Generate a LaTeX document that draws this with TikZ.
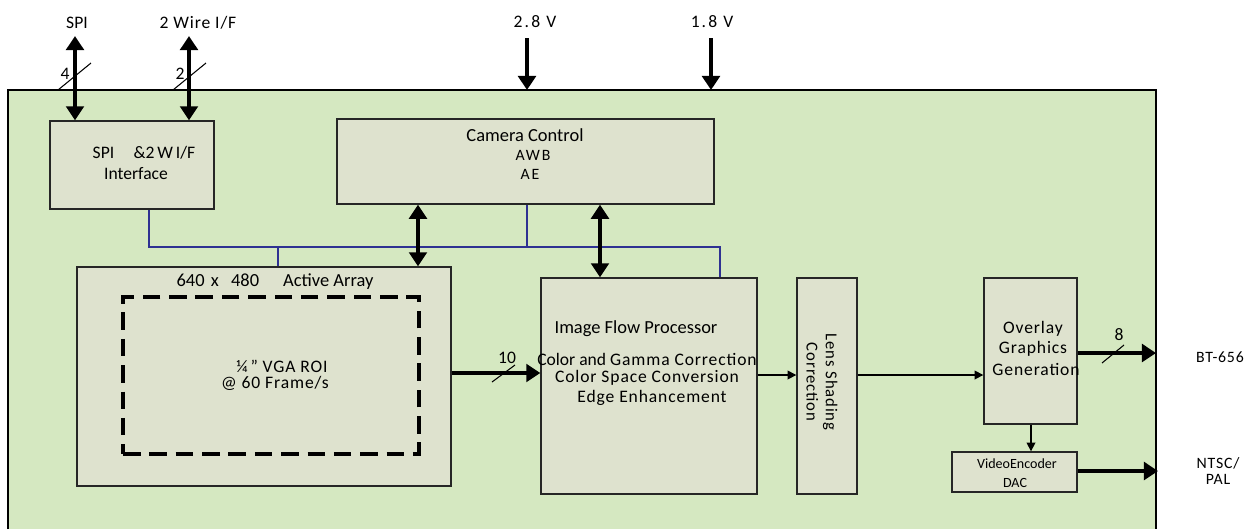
\documentclass[tikz,border=0pt]{standalone}
\usepackage{fontspec}
\setmainfont{Carlito}
\newfontfamily\spc[LetterSpace=5]{Carlito}
\newfontfamily\spcw[LetterSpace=12]{Carlito}
\usetikzlibrary{arrows.meta}
\definecolor{outergreen}{RGB}{213,232,193}
\definecolor{innerbox}{RGB}{222,226,206}
\definecolor{busblue}{RGB}{46,49,146}
\tikzset{
 blk/.style={draw=black!85, line width=0.8pt, fill=innerbox, inner sep=0pt, anchor=center},
 thickarr/.style={line width=2.3pt, -{Triangle[width=10pt,length=8pt]}},
 thickdbl/.style={line width=2.3pt, {Triangle[width=10pt,length=8pt]}-{Triangle[width=10pt,length=8pt]}},
 thinarr/.style={line width=0.9pt, -{Triangle[width=5pt,length=5pt]}},
 bus/.style={draw=busblue, line width=0.7pt},
 slash/.style={line width=0.6pt},
 lbl/.style={inner sep=0pt, font=\fontsize{10}{11}\selectfont},
 lblm/.style={inner sep=0pt, font=\fontsize{9}{10}\selectfont},
 lblb/.style={inner sep=0pt, font=\fontsize{10.5}{12}\selectfont},
 lbls/.style={inner sep=0pt, font=\fontsize{8}{9}\selectfont},
}
\begin{document}
\begin{tikzpicture}[x=0.02cm,y=-0.02cm]
\useasboundingbox (0,0) rectangle (1248,529);
% outer chip
\fill[outergreen] (8,90) rectangle (1156,529);
\draw[line width=0.8pt] (8,529) -- (8,90) -- (1156,90) -- (1156,529);

% blocks
\node[blk, minimum width=3.28cm, minimum height=1.76cm] (spi) at (132,165) {};
\node[blk, minimum width=7.54cm, minimum height=1.70cm] (cam) at (525.5,161.5) {};
\node[blk, minimum width=7.48cm, minimum height=4.38cm] (act) at (264,376.5) {};
\node[draw, line width=2.2pt, dash pattern=on 10pt off 5pt, minimum width=5.92cm, minimum height=3.14cm, inner sep=0pt] (roi) at (271,375.5) {};
\node[blk, minimum width=4.32cm, minimum height=4.32cm] (ifp) at (649,386) {};
\node[blk, minimum width=1.2cm, minimum height=4.32cm] (lens) at (827,386) {};
\node[blk, minimum width=1.86cm, minimum height=2.92cm] (ovl) at (1030.5,351) {};
\node[blk, minimum width=2.5cm, minimum height=0.8cm] (venc) at (1014.5,472) {};

% block texts
\node[lbl] (spit1) at (144,153) {SPI\hspace{1.1em}\&2\,W\,I/F};
\node[lbl] (spit2) at (136,174) {Interface};
\node[lblb] (camt1) at (525,135) {Camera Control};
\node[lblm] (camt2) at (533,155) {{\spcw AWB}};
\node[lblm] (camt3) at (530,174) {{\spcw AE}};
\node[lblb] (actt) at (275,282) {640\,\,x\,\,\,\,480\hspace{1.3em}Active Array};
\node[lbl] (roit1) at (282,366) {{\spc ¼\,” VGA ROI}};
\node[lbl] (roit2) at (275,383) {{\spc @ 60 Frame/s}};
\node[lblb] (ifpt1) at (636,329) {Image Flow Processor};
\node[lbl] (ifpt2) at (647,359) {Color and {\spc Gamma Correction}};
\node[lbl] (ifpt3) at (647,378) {{\spc Color Space Conversion}};
\node[lbl] (ifpt4) at (652,398) {{\spc Edge Enhancement}};
\node[inner sep=0pt, font=\fontsize{9.5}{11}\selectfont, rotate=-90, align=center] (lenst) at (822,382) {{\spc Lens Shading}\\{\spc Correction}};
\node[lbl] (ovlt1) at (1033,329) {{\spc Overlay}};
\node[lbl] (ovlt2) at (1033,349) {{\spc Graphics}};
\node[lbl] (ovlt3) at (1036,369) {{\spc Generation}};
\node[lbls] (venct1) at (1017,464) {VideoEncoder};
\node[lbls] (venct2) at (1015,483) {DAC};

% external labels
\node[lbl] (lspi) at (77,23) {SPI};
\node[lbl] (ltw) at (198,23) {{\spc 2 Wire I/F}};
\node[lbl] (l28) at (535,22) {{\spcw 2.8 V}};
\node[lbl] (l18) at (712,22) {{\spcw 1.8 V}};
\node[lblm] (lbt) at (1220,357) {{\spc BT-656}};
\node[lblm, align=center] (lntsc) at (1218,471) {{\spc NTSC/}\\[-1pt]{\spc PAL}};

% top connectors
\coordinate (spiend) at (75,36);
\coordinate (twend) at (189,36);
\coordinate (v28) at (527,38);
\coordinate (v18) at (711,38);
\draw[thickdbl] (spiend) -- (spiend |- spi.north);
\draw[thickdbl] (twend) -- (twend |- spi.north);
\draw[slash] (58,90) -- (91,63);
\draw[slash] (173,90) -- (206,63);
\node[lbl] (n4) at (65,74) {4};
\node[lbl] (n2) at (180,74) {2};
\draw[thickarr] (v28) -- (527,90);
\draw[thickarr] (v18) -- (711,90);

% bus
\draw[bus] (149,0 |- spi.south) -- (149,247) -- (720,247) -- (720,0 |- ifp.north);
\draw[bus] (278,247) -- (278,0 |- act.north);
\draw[bus] (527,0 |- cam.south) -- (527,247);

% camera control double arrows
\draw[thickdbl] (418,0 |- cam.south) -- (418,0 |- act.north);
\draw[thickdbl] (600,0 |- cam.south) -- (600,0 |- ifp.north);

% data path
\draw[thickarr] (act.east |- 0,373) -- (ifp.west |- 0,373);
\draw[slash] (492,382) -- (515,365);
\node[lbl] (n10) at (507,358) {10};
\draw[thinarr] (ifp.east |- 0,375) -- (lens.west |- 0,375);
\draw[thinarr] (lens.east |- 0,375) -- (ovl.west |- 0,375);
\coordinate (btend) at (1156,353);
\draw[thickarr] (ovl.east |- btend) -- (btend);
\draw[slash] (1102,363) -- (1124,345);
\node[lbl] (n8) at (1119,335) {8};
\draw[thinarr] (1031,0 |- ovl.south) -- (1031,0 |- venc.north);
\coordinate (ntscend) at (1158,471);
\draw[thickarr] (venc.east |- ntscend) -- (ntscend);
\end{tikzpicture}
\end{document}
